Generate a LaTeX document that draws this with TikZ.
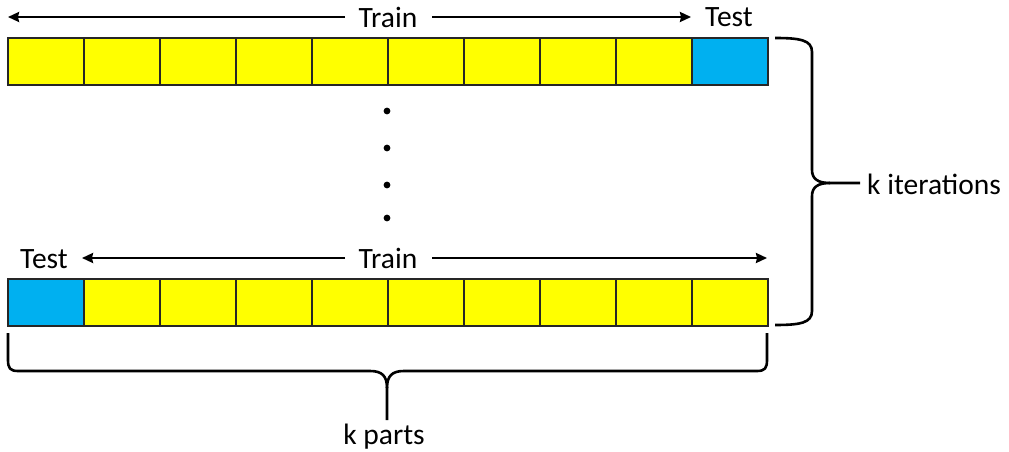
\documentclass[tikz,border=0pt]{standalone}
\usepackage{fontspec}
\setmainfont{Carlito}
\usetikzlibrary{arrows.meta}
\definecolor{cellyellow}{HTML}{FFFF00}
\definecolor{cellblue}{HTML}{00B0F0}
\begin{document}
\begin{tikzpicture}[x=1pt,y=-1pt,
  cell/.style={draw=black!85,line width=1.6pt,minimum width=76pt,minimum height=47pt,inner sep=0pt,anchor=north west},
  trainc/.style={cell,fill=cellyellow},
  testc/.style={cell,fill=cellblue},
  lbl/.style={font=\fontsize{29.5}{32}\selectfont,inner sep=0pt},
  arr/.style={line width=2.2pt,-{Stealth[length=11pt,width=10pt,inset=1pt]}},
  brace/.style={line width=2.6pt,line join=round}]
\useasboundingbox (0,0) rectangle (1009,452);
% top row
\foreach \i in {0,...,8} {\node[trainc] (a\i) at (7+76*\i,37) {};}
\node[testc] (a9) at (691,37) {};
% bottom row
\node[testc] (b0) at (7,278) {};
\foreach \i in {1,...,9} {\node[trainc] (b\i) at (7+76*\i,278) {};}
% top labels
\node[lbl] (trainA) at (388,17) {Train};
\node[lbl] (testA) at (729,17) {Test};
\coordinate (tA1) at (8,17);
\coordinate (tA2) at (691,17);
\draw[arr] (345,17) coordinate (sA1) -- (tA1);
\draw[arr] (432,17) coordinate (sA2) -- (tA2);
% bottom labels
\node[lbl] (trainB) at (388,258) {Train};
\node[lbl] (testB) at (44,259) {Test};
\coordinate (tB1) at (82,258);
\coordinate (tB2) at (767,258);
\draw[arr] (345,258) coordinate (sB1) -- (tB1);
\draw[arr] (432,258) coordinate (sB2) -- (tB2);
% dots
\foreach \y/\n in {111/d1,148/d2,185/d3,218/d4} {\fill (387,\y) circle (3.4pt) coordinate (\n);}
% right brace
\coordinate (rtip) at (860,183);
\draw[brace] (775,38) .. controls (800,38) and (812,40) .. (812,52) -- (812,170)
  .. controls (812,179) and (818,183) .. (830,183) -- (rtip);
\draw[brace] (775,325) .. controls (800,325) and (812,323) .. (812,311) -- (812,196)
  .. controls (812,187) and (818,183) .. (830,183);
\node[lbl,anchor=west] (kit) at (867,184) {k iterations};
% bottom brace
\coordinate (btip) at (387,420);
\draw[brace] (8,333) -- (8,360) .. controls (8,368) and (10,371) .. (18,371) -- (370,371)
  .. controls (382,371) and (387,376) .. (387,388) -- (btip);
\draw[brace] (767,333) -- (767,360) .. controls (767,368) and (765,371) .. (757,371) -- (404,371)
  .. controls (392,371) and (387,376) .. (387,388);
\node[lbl] (kp) at (384,437) {k parts};
\end{tikzpicture}
\end{document}
